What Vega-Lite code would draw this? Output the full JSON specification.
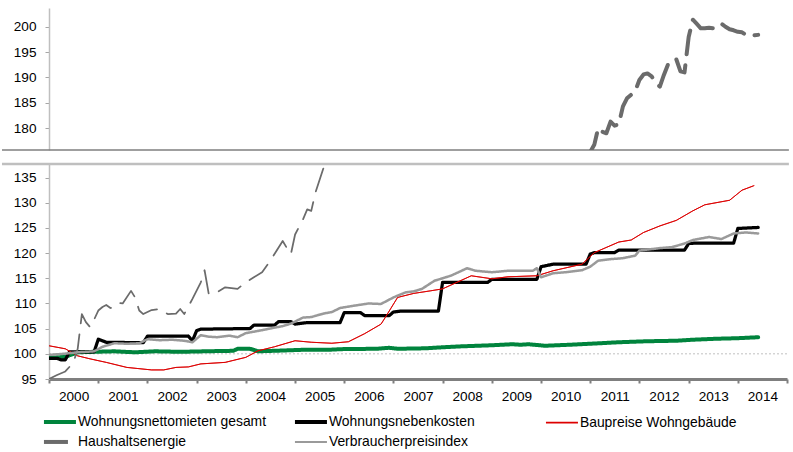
{
  "$schema": "https://vega.github.io/schema/vega-lite/v6.json",
  "padding": {"left": 0, "top": 8, "right": 4, "bottom": 0},
  "spacing": 11,
  "config": {
    "view": {"stroke": null},
    "font": "Liberation Sans",
    "axis": {"labelFont": "Liberation Sans", "labelFontSize": 13.6, "labelColor": "#000000", "grid": false, "title": null, "tickSize": 4, "labelOverlap": false},
    "legend": {"labelFont": "Liberation Sans", "labelFontSize": 13.9, "labelColor": "#000000", "labelLimit": 400}
  },
  "datasets": {
    "indices": [
      {"series": "Wohnungsnettomieten gesamt", "date": "2000-01-01", "value": 99.2},
      {"series": "Wohnungsnettomieten gesamt", "date": "2000-03-01", "value": 99.3},
      {"series": "Wohnungsnettomieten gesamt", "date": "2000-05-01", "value": 99.4},
      {"series": "Wohnungsnettomieten gesamt", "date": "2000-08-01", "value": 100.3},
      {"series": "Wohnungsnettomieten gesamt", "date": "2000-12-01", "value": 100.4},
      {"series": "Wohnungsnettomieten gesamt", "date": "2001-05-01", "value": 100.5},
      {"series": "Wohnungsnettomieten gesamt", "date": "2001-10-01", "value": 100.3},
      {"series": "Wohnungsnettomieten gesamt", "date": "2002-03-01", "value": 100.5},
      {"series": "Wohnungsnettomieten gesamt", "date": "2002-09-01", "value": 100.4},
      {"series": "Wohnungsnettomieten gesamt", "date": "2003-03-01", "value": 100.5},
      {"series": "Wohnungsnettomieten gesamt", "date": "2003-10-01", "value": 100.6},
      {"series": "Wohnungsnettomieten gesamt", "date": "2003-11-01", "value": 101.0},
      {"series": "Wohnungsnettomieten gesamt", "date": "2004-02-01", "value": 101.0},
      {"series": "Wohnungsnettomieten gesamt", "date": "2004-04-01", "value": 100.5},
      {"series": "Wohnungsnettomieten gesamt", "date": "2004-08-01", "value": 100.6},
      {"series": "Wohnungsnettomieten gesamt", "date": "2005-03-01", "value": 100.8},
      {"series": "Wohnungsnettomieten gesamt", "date": "2005-09-01", "value": 100.8},
      {"series": "Wohnungsnettomieten gesamt", "date": "2006-01-01", "value": 100.95},
      {"series": "Wohnungsnettomieten gesamt", "date": "2006-09-01", "value": 101.0},
      {"series": "Wohnungsnettomieten gesamt", "date": "2006-12-01", "value": 101.2},
      {"series": "Wohnungsnettomieten gesamt", "date": "2007-02-01", "value": 101.0},
      {"series": "Wohnungsnettomieten gesamt", "date": "2007-09-01", "value": 101.1},
      {"series": "Wohnungsnettomieten gesamt", "date": "2008-01-01", "value": 101.3},
      {"series": "Wohnungsnettomieten gesamt", "date": "2008-06-01", "value": 101.5},
      {"series": "Wohnungsnettomieten gesamt", "date": "2009-01-01", "value": 101.7},
      {"series": "Wohnungsnettomieten gesamt", "date": "2009-06-01", "value": 101.9},
      {"series": "Wohnungsnettomieten gesamt", "date": "2009-08-01", "value": 101.8},
      {"series": "Wohnungsnettomieten gesamt", "date": "2009-10-01", "value": 101.9},
      {"series": "Wohnungsnettomieten gesamt", "date": "2010-02-01", "value": 101.6},
      {"series": "Wohnungsnettomieten gesamt", "date": "2010-08-01", "value": 101.8},
      {"series": "Wohnungsnettomieten gesamt", "date": "2011-01-01", "value": 102.0},
      {"series": "Wohnungsnettomieten gesamt", "date": "2011-08-01", "value": 102.3},
      {"series": "Wohnungsnettomieten gesamt", "date": "2012-03-01", "value": 102.5},
      {"series": "Wohnungsnettomieten gesamt", "date": "2012-10-01", "value": 102.6},
      {"series": "Wohnungsnettomieten gesamt", "date": "2013-02-01", "value": 102.8},
      {"series": "Wohnungsnettomieten gesamt", "date": "2013-08-01", "value": 103.0},
      {"series": "Wohnungsnettomieten gesamt", "date": "2014-01-01", "value": 103.1},
      {"series": "Wohnungsnettomieten gesamt", "date": "2014-06-01", "value": 103.3},

      {"series": "Wohnungsnebenkosten", "date": "2000-01-01", "value": 99.1},
      {"series": "Wohnungsnebenkosten", "date": "2000-03-01", "value": 99.1},
      {"series": "Wohnungsnebenkosten", "date": "2000-04-01", "value": 98.8},
      {"series": "Wohnungsnebenkosten", "date": "2000-05-01", "value": 98.8},
      {"series": "Wohnungsnebenkosten", "date": "2000-06-01", "value": 100.4},
      {"series": "Wohnungsnebenkosten", "date": "2000-12-01", "value": 100.4},
      {"series": "Wohnungsnebenkosten", "date": "2001-01-01", "value": 102.9},
      {"series": "Wohnungsnebenkosten", "date": "2001-03-01", "value": 102.3},
      {"series": "Wohnungsnebenkosten", "date": "2001-12-01", "value": 102.2},
      {"series": "Wohnungsnebenkosten", "date": "2002-01-01", "value": 103.5},
      {"series": "Wohnungsnebenkosten", "date": "2002-11-01", "value": 103.5},
      {"series": "Wohnungsnebenkosten", "date": "2002-12-01", "value": 102.6},
      {"series": "Wohnungsnebenkosten", "date": "2003-01-01", "value": 104.6},
      {"series": "Wohnungsnebenkosten", "date": "2003-02-01", "value": 104.9},
      {"series": "Wohnungsnebenkosten", "date": "2003-12-01", "value": 105.0},
      {"series": "Wohnungsnebenkosten", "date": "2004-02-01", "value": 105.0},
      {"series": "Wohnungsnebenkosten", "date": "2004-03-01", "value": 105.7},
      {"series": "Wohnungsnebenkosten", "date": "2004-08-01", "value": 105.7},
      {"series": "Wohnungsnebenkosten", "date": "2004-09-01", "value": 106.4},
      {"series": "Wohnungsnebenkosten", "date": "2004-12-01", "value": 106.4},
      {"series": "Wohnungsnebenkosten", "date": "2005-01-01", "value": 105.9},
      {"series": "Wohnungsnebenkosten", "date": "2005-04-01", "value": 106.2},
      {"series": "Wohnungsnebenkosten", "date": "2005-12-01", "value": 106.2},
      {"series": "Wohnungsnebenkosten", "date": "2006-01-01", "value": 108.2},
      {"series": "Wohnungsnebenkosten", "date": "2006-05-01", "value": 108.2},
      {"series": "Wohnungsnebenkosten", "date": "2006-06-01", "value": 107.6},
      {"series": "Wohnungsnebenkosten", "date": "2006-12-01", "value": 107.6},
      {"series": "Wohnungsnebenkosten", "date": "2007-01-01", "value": 108.3},
      {"series": "Wohnungsnebenkosten", "date": "2007-03-01", "value": 108.5},
      {"series": "Wohnungsnebenkosten", "date": "2007-12-01", "value": 108.5},
      {"series": "Wohnungsnebenkosten", "date": "2008-01-01", "value": 114.2},
      {"series": "Wohnungsnebenkosten", "date": "2008-12-01", "value": 114.2},
      {"series": "Wohnungsnebenkosten", "date": "2009-01-01", "value": 114.8},
      {"series": "Wohnungsnebenkosten", "date": "2009-12-01", "value": 114.8},
      {"series": "Wohnungsnebenkosten", "date": "2010-01-01", "value": 117.3},
      {"series": "Wohnungsnebenkosten", "date": "2010-04-01", "value": 117.8},
      {"series": "Wohnungsnebenkosten", "date": "2010-12-01", "value": 117.8},
      {"series": "Wohnungsnebenkosten", "date": "2011-01-01", "value": 119.8},
      {"series": "Wohnungsnebenkosten", "date": "2011-02-01", "value": 120.1},
      {"series": "Wohnungsnebenkosten", "date": "2011-07-01", "value": 120.1},
      {"series": "Wohnungsnebenkosten", "date": "2011-08-01", "value": 120.6},
      {"series": "Wohnungsnebenkosten", "date": "2012-12-01", "value": 120.6},
      {"series": "Wohnungsnebenkosten", "date": "2013-01-01", "value": 121.9},
      {"series": "Wohnungsnebenkosten", "date": "2013-03-01", "value": 122.0},
      {"series": "Wohnungsnebenkosten", "date": "2013-12-01", "value": 122.0},
      {"series": "Wohnungsnebenkosten", "date": "2014-01-01", "value": 124.9},
      {"series": "Wohnungsnebenkosten", "date": "2014-06-01", "value": 125.1},

      {"series": "Baupreise Wohngebäude", "date": "2000-01-01", "value": 101.6},
      {"series": "Baupreise Wohngebäude", "date": "2000-05-01", "value": 101.0},
      {"series": "Baupreise Wohngebäude", "date": "2000-08-01", "value": 99.6},
      {"series": "Baupreise Wohngebäude", "date": "2000-11-01", "value": 99.0},
      {"series": "Baupreise Wohngebäude", "date": "2001-03-01", "value": 98.3},
      {"series": "Baupreise Wohngebäude", "date": "2001-08-01", "value": 97.3},
      {"series": "Baupreise Wohngebäude", "date": "2002-02-01", "value": 96.8},
      {"series": "Baupreise Wohngebäude", "date": "2002-05-01", "value": 96.8},
      {"series": "Baupreise Wohngebäude", "date": "2002-08-01", "value": 97.3},
      {"series": "Baupreise Wohngebäude", "date": "2002-11-01", "value": 97.4},
      {"series": "Baupreise Wohngebäude", "date": "2003-02-01", "value": 98.0},
      {"series": "Baupreise Wohngebäude", "date": "2003-08-01", "value": 98.3},
      {"series": "Baupreise Wohngebäude", "date": "2004-01-01", "value": 99.3},
      {"series": "Baupreise Wohngebäude", "date": "2004-04-01", "value": 100.6},
      {"series": "Baupreise Wohngebäude", "date": "2004-08-01", "value": 101.4},
      {"series": "Baupreise Wohngebäude", "date": "2005-01-01", "value": 102.6},
      {"series": "Baupreise Wohngebäude", "date": "2005-05-01", "value": 102.3},
      {"series": "Baupreise Wohngebäude", "date": "2005-10-01", "value": 102.1},
      {"series": "Baupreise Wohngebäude", "date": "2006-02-01", "value": 102.4},
      {"series": "Baupreise Wohngebäude", "date": "2006-06-01", "value": 104.0},
      {"series": "Baupreise Wohngebäude", "date": "2006-10-01", "value": 105.9},
      {"series": "Baupreise Wohngebäude", "date": "2006-11-01", "value": 107.2},
      {"series": "Baupreise Wohngebäude", "date": "2007-02-01", "value": 111.2},
      {"series": "Baupreise Wohngebäude", "date": "2007-06-01", "value": 112.0},
      {"series": "Baupreise Wohngebäude", "date": "2007-10-01", "value": 112.5},
      {"series": "Baupreise Wohngebäude", "date": "2008-01-01", "value": 112.9},
      {"series": "Baupreise Wohngebäude", "date": "2008-08-01", "value": 115.5},
      {"series": "Baupreise Wohngebäude", "date": "2009-01-01", "value": 114.9},
      {"series": "Baupreise Wohngebäude", "date": "2009-05-01", "value": 115.3},
      {"series": "Baupreise Wohngebäude", "date": "2009-12-01", "value": 115.5},
      {"series": "Baupreise Wohngebäude", "date": "2010-04-01", "value": 116.5},
      {"series": "Baupreise Wohngebäude", "date": "2010-11-01", "value": 117.8},
      {"series": "Baupreise Wohngebäude", "date": "2011-02-01", "value": 120.1},
      {"series": "Baupreise Wohngebäude", "date": "2011-08-01", "value": 122.2},
      {"series": "Baupreise Wohngebäude", "date": "2011-11-01", "value": 122.6},
      {"series": "Baupreise Wohngebäude", "date": "2012-02-01", "value": 124.1},
      {"series": "Baupreise Wohngebäude", "date": "2012-06-01", "value": 125.4},
      {"series": "Baupreise Wohngebäude", "date": "2012-10-01", "value": 126.5},
      {"series": "Baupreise Wohngebäude", "date": "2013-02-01", "value": 128.4},
      {"series": "Baupreise Wohngebäude", "date": "2013-05-01", "value": 129.6},
      {"series": "Baupreise Wohngebäude", "date": "2013-11-01", "value": 130.5},
      {"series": "Baupreise Wohngebäude", "date": "2014-02-01", "value": 132.5},
      {"series": "Baupreise Wohngebäude", "date": "2014-05-01", "value": 133.4},

      {"series": "Haushaltsenergie", "date": "2000-01-01", "value": 95.0},
      {"series": "Haushaltsenergie", "date": "2000-03-01", "value": 95.8},
      {"series": "Haushaltsenergie", "date": "2000-05-01", "value": 96.5},
      {"series": "Haushaltsenergie", "date": "2000-07-01", "value": 98.3},
      {"series": "Haushaltsenergie", "date": "2000-08-01", "value": 101.0},
      {"series": "Haushaltsenergie", "date": "2000-09-01", "value": 107.9},
      {"series": "Haushaltsenergie", "date": "2000-10-01", "value": 106.3},
      {"series": "Haushaltsenergie", "date": "2000-11-01", "value": 105.3},
      {"series": "Haushaltsenergie", "date": "2000-12-01", "value": 106.8},
      {"series": "Haushaltsenergie", "date": "2001-01-01", "value": 108.6},
      {"series": "Haushaltsenergie", "date": "2001-02-01", "value": 109.3},
      {"series": "Haushaltsenergie", "date": "2001-03-01", "value": 109.7},
      {"series": "Haushaltsenergie", "date": "2001-04-01", "value": 109.1},
      {"series": "Haushaltsenergie", "date": "2001-05-01", "value": 109.3},
      {"series": "Haushaltsenergie", "date": "2001-06-01", "value": 110.1},
      {"series": "Haushaltsenergie", "date": "2001-07-01", "value": 110.0},
      {"series": "Haushaltsenergie", "date": "2001-09-01", "value": 112.5},
      {"series": "Haushaltsenergie", "date": "2001-10-01", "value": 111.2},
      {"series": "Haushaltsenergie", "date": "2001-11-01", "value": 108.6},
      {"series": "Haushaltsenergie", "date": "2001-12-01", "value": 107.9},
      {"series": "Haushaltsenergie", "date": "2002-02-01", "value": 108.7},
      {"series": "Haushaltsenergie", "date": "2002-04-01", "value": 108.9},
      {"series": "Haushaltsenergie", "date": "2002-06-01", "value": 107.9},
      {"series": "Haushaltsenergie", "date": "2002-08-01", "value": 108.0},
      {"series": "Haushaltsenergie", "date": "2002-09-01", "value": 108.9},
      {"series": "Haushaltsenergie", "date": "2002-10-01", "value": 107.9},
      {"series": "Haushaltsenergie", "date": "2002-12-01", "value": 110.9},
      {"series": "Haushaltsenergie", "date": "2003-02-01", "value": 114.2},
      {"series": "Haushaltsenergie", "date": "2003-03-01", "value": 116.6},
      {"series": "Haushaltsenergie", "date": "2003-04-01", "value": 111.9},
      {"series": "Haushaltsenergie", "date": "2003-06-01", "value": 112.2},
      {"series": "Haushaltsenergie", "date": "2003-08-01", "value": 113.2},
      {"series": "Haushaltsenergie", "date": "2003-11-01", "value": 112.9},
      {"series": "Haushaltsenergie", "date": "2004-01-01", "value": 114.2},
      {"series": "Haushaltsenergie", "date": "2004-03-01", "value": 115.2},
      {"series": "Haushaltsenergie", "date": "2004-05-01", "value": 116.2},
      {"series": "Haushaltsenergie", "date": "2004-07-01", "value": 118.5},
      {"series": "Haushaltsenergie", "date": "2004-10-01", "value": 122.4},
      {"series": "Haushaltsenergie", "date": "2004-11-01", "value": 121.0},
      {"series": "Haushaltsenergie", "date": "2004-12-01", "value": 119.8},
      {"series": "Haushaltsenergie", "date": "2005-01-01", "value": 123.7},
      {"series": "Haushaltsenergie", "date": "2005-03-01", "value": 126.7},
      {"series": "Haushaltsenergie", "date": "2005-04-01", "value": 128.7},
      {"series": "Haushaltsenergie", "date": "2005-05-01", "value": 128.4},
      {"series": "Haushaltsenergie", "date": "2005-06-01", "value": 132.0},
      {"series": "Haushaltsenergie", "date": "2005-08-01", "value": 137.0},
      {"series": "Haushaltsenergie", "date": "2005-10-01", "value": 143.0},
      {"series": "Haushaltsenergie", "date": "2006-01-01", "value": 142.0},
      {"series": "Haushaltsenergie", "date": "2006-07-01", "value": 148.0},
      {"series": "Haushaltsenergie", "date": "2007-01-01", "value": 145.0},
      {"series": "Haushaltsenergie", "date": "2007-07-01", "value": 148.0},
      {"series": "Haushaltsenergie", "date": "2008-01-01", "value": 158.0},
      {"series": "Haushaltsenergie", "date": "2008-07-01", "value": 172.0},
      {"series": "Haushaltsenergie", "date": "2008-10-01", "value": 170.0},
      {"series": "Haushaltsenergie", "date": "2009-01-01", "value": 160.0},
      {"series": "Haushaltsenergie", "date": "2009-07-01", "value": 152.0},
      {"series": "Haushaltsenergie", "date": "2010-01-01", "value": 158.0},
      {"series": "Haushaltsenergie", "date": "2010-07-01", "value": 160.0},
      {"series": "Haushaltsenergie", "date": "2010-10-01", "value": 165.0},
      {"series": "Haushaltsenergie", "date": "2010-12-01", "value": 171.0},
      {"series": "Haushaltsenergie", "date": "2011-01-01", "value": 175.3},
      {"series": "Haushaltsenergie", "date": "2011-02-01", "value": 176.8},
      {"series": "Haushaltsenergie", "date": "2011-03-01", "value": 180.0},
      {"series": "Haushaltsenergie", "date": "2011-04-01", "value": 179.3},
      {"series": "Haushaltsenergie", "date": "2011-05-01", "value": 179.0},
      {"series": "Haushaltsenergie", "date": "2011-06-01", "value": 181.3},
      {"series": "Haushaltsenergie", "date": "2011-07-01", "value": 180.5},
      {"series": "Haushaltsenergie", "date": "2011-08-01", "value": 180.8},
      {"series": "Haushaltsenergie", "date": "2011-09-01", "value": 184.3},
      {"series": "Haushaltsenergie", "date": "2011-10-01", "value": 185.9},
      {"series": "Haushaltsenergie", "date": "2011-11-01", "value": 186.6},
      {"series": "Haushaltsenergie", "date": "2011-12-01", "value": 187.3},
      {"series": "Haushaltsenergie", "date": "2012-01-01", "value": 189.5},
      {"series": "Haushaltsenergie", "date": "2012-02-01", "value": 190.6},
      {"series": "Haushaltsenergie", "date": "2012-03-01", "value": 190.8},
      {"series": "Haushaltsenergie", "date": "2012-04-01", "value": 190.2},
      {"series": "Haushaltsenergie", "date": "2012-05-01", "value": 189.0},
      {"series": "Haushaltsenergie", "date": "2012-06-01", "value": 188.2},
      {"series": "Haushaltsenergie", "date": "2012-07-01", "value": 190.5},
      {"series": "Haushaltsenergie", "date": "2012-08-01", "value": 192.6},
      {"series": "Haushaltsenergie", "date": "2012-09-01", "value": 193.4},
      {"series": "Haushaltsenergie", "date": "2012-10-01", "value": 193.6},
      {"series": "Haushaltsenergie", "date": "2012-11-01", "value": 191.2},
      {"series": "Haushaltsenergie", "date": "2012-12-01", "value": 191.0},
      {"series": "Haushaltsenergie", "date": "2013-01-01", "value": 198.0},
      {"series": "Haushaltsenergie", "date": "2013-02-01", "value": 201.4},
      {"series": "Haushaltsenergie", "date": "2013-03-01", "value": 200.6},
      {"series": "Haushaltsenergie", "date": "2013-04-01", "value": 199.7},
      {"series": "Haushaltsenergie", "date": "2013-05-01", "value": 199.7},
      {"series": "Haushaltsenergie", "date": "2013-06-01", "value": 199.8},
      {"series": "Haushaltsenergie", "date": "2013-07-01", "value": 199.7},
      {"series": "Haushaltsenergie", "date": "2013-08-01", "value": 200.2},
      {"series": "Haushaltsenergie", "date": "2013-09-01", "value": 200.6},
      {"series": "Haushaltsenergie", "date": "2013-10-01", "value": 200.0},
      {"series": "Haushaltsenergie", "date": "2013-11-01", "value": 199.5},
      {"series": "Haushaltsenergie", "date": "2013-12-01", "value": 199.3},
      {"series": "Haushaltsenergie", "date": "2014-01-01", "value": 199.0},
      {"series": "Haushaltsenergie", "date": "2014-02-01", "value": 198.9},
      {"series": "Haushaltsenergie", "date": "2014-03-01", "value": 198.4},
      {"series": "Haushaltsenergie", "date": "2014-04-01", "value": 198.2},
      {"series": "Haushaltsenergie", "date": "2014-05-01", "value": 198.3},
      {"series": "Haushaltsenergie", "date": "2014-06-01", "value": 198.4},

      {"series": "Verbraucherpreisindex", "date": "2000-01-01", "value": 99.8},
      {"series": "Verbraucherpreisindex", "date": "2000-04-01", "value": 99.96},
      {"series": "Verbraucherpreisindex", "date": "2000-08-01", "value": 100.3},
      {"series": "Verbraucherpreisindex", "date": "2000-12-01", "value": 100.5},
      {"series": "Verbraucherpreisindex", "date": "2001-02-01", "value": 101.4},
      {"series": "Verbraucherpreisindex", "date": "2001-05-01", "value": 102.1},
      {"series": "Verbraucherpreisindex", "date": "2001-08-01", "value": 102.0},
      {"series": "Verbraucherpreisindex", "date": "2001-11-01", "value": 102.1},
      {"series": "Verbraucherpreisindex", "date": "2002-01-01", "value": 102.9},
      {"series": "Verbraucherpreisindex", "date": "2002-04-01", "value": 102.7},
      {"series": "Verbraucherpreisindex", "date": "2002-07-01", "value": 102.8},
      {"series": "Verbraucherpreisindex", "date": "2002-10-01", "value": 102.6},
      {"series": "Verbraucherpreisindex", "date": "2002-12-01", "value": 102.3},
      {"series": "Verbraucherpreisindex", "date": "2003-02-01", "value": 103.7},
      {"series": "Verbraucherpreisindex", "date": "2003-04-01", "value": 103.4},
      {"series": "Verbraucherpreisindex", "date": "2003-06-01", "value": 103.3},
      {"series": "Verbraucherpreisindex", "date": "2003-09-01", "value": 103.6},
      {"series": "Verbraucherpreisindex", "date": "2003-11-01", "value": 103.3},
      {"series": "Verbraucherpreisindex", "date": "2004-01-01", "value": 104.1},
      {"series": "Verbraucherpreisindex", "date": "2004-05-01", "value": 104.7},
      {"series": "Verbraucherpreisindex", "date": "2004-08-01", "value": 105.2},
      {"series": "Verbraucherpreisindex", "date": "2004-10-01", "value": 105.5},
      {"series": "Verbraucherpreisindex", "date": "2004-12-01", "value": 106.0},
      {"series": "Verbraucherpreisindex", "date": "2005-03-01", "value": 107.2},
      {"series": "Verbraucherpreisindex", "date": "2005-05-01", "value": 107.3},
      {"series": "Verbraucherpreisindex", "date": "2005-08-01", "value": 108.0},
      {"series": "Verbraucherpreisindex", "date": "2005-10-01", "value": 108.3},
      {"series": "Verbraucherpreisindex", "date": "2005-12-01", "value": 109.1},
      {"series": "Verbraucherpreisindex", "date": "2006-03-01", "value": 109.5},
      {"series": "Verbraucherpreisindex", "date": "2006-07-01", "value": 110.0},
      {"series": "Verbraucherpreisindex", "date": "2006-10-01", "value": 109.9},
      {"series": "Verbraucherpreisindex", "date": "2007-01-01", "value": 111.2},
      {"series": "Verbraucherpreisindex", "date": "2007-04-01", "value": 112.2},
      {"series": "Verbraucherpreisindex", "date": "2007-06-01", "value": 112.4},
      {"series": "Verbraucherpreisindex", "date": "2007-08-01", "value": 112.9},
      {"series": "Verbraucherpreisindex", "date": "2007-11-01", "value": 114.5},
      {"series": "Verbraucherpreisindex", "date": "2008-03-01", "value": 115.5},
      {"series": "Verbraucherpreisindex", "date": "2008-07-01", "value": 117.0},
      {"series": "Verbraucherpreisindex", "date": "2008-09-01", "value": 116.5},
      {"series": "Verbraucherpreisindex", "date": "2009-01-01", "value": 116.2},
      {"series": "Verbraucherpreisindex", "date": "2009-05-01", "value": 116.5},
      {"series": "Verbraucherpreisindex", "date": "2009-11-01", "value": 116.5},
      {"series": "Verbraucherpreisindex", "date": "2009-12-01", "value": 117.0},
      {"series": "Verbraucherpreisindex", "date": "2010-01-01", "value": 115.2},
      {"series": "Verbraucherpreisindex", "date": "2010-04-01", "value": 116.0},
      {"series": "Verbraucherpreisindex", "date": "2010-07-01", "value": 116.2},
      {"series": "Verbraucherpreisindex", "date": "2010-11-01", "value": 116.6},
      {"series": "Verbraucherpreisindex", "date": "2011-01-01", "value": 117.3},
      {"series": "Verbraucherpreisindex", "date": "2011-03-01", "value": 118.5},
      {"series": "Verbraucherpreisindex", "date": "2011-06-01", "value": 118.8},
      {"series": "Verbraucherpreisindex", "date": "2011-09-01", "value": 119.0},
      {"series": "Verbraucherpreisindex", "date": "2011-12-01", "value": 119.5},
      {"series": "Verbraucherpreisindex", "date": "2012-01-01", "value": 120.5},
      {"series": "Verbraucherpreisindex", "date": "2012-06-01", "value": 121.0},
      {"series": "Verbraucherpreisindex", "date": "2012-09-01", "value": 121.2},
      {"series": "Verbraucherpreisindex", "date": "2012-12-01", "value": 121.9},
      {"series": "Verbraucherpreisindex", "date": "2013-02-01", "value": 122.6},
      {"series": "Verbraucherpreisindex", "date": "2013-06-01", "value": 123.2},
      {"series": "Verbraucherpreisindex", "date": "2013-09-01", "value": 122.8},
      {"series": "Verbraucherpreisindex", "date": "2013-12-01", "value": 123.9},
      {"series": "Verbraucherpreisindex", "date": "2014-03-01", "value": 124.1},
      {"series": "Verbraucherpreisindex", "date": "2014-06-01", "value": 123.9}
    ]
  },
  "vconcat": [
    {
      "width": 738,
      "height": 142,
      "layer": [
        {
          "data": {"values": [{}]},
          "mark": {"type": "rule", "color": "#7f7f7f", "strokeWidth": 1.5},
          "encoding": {
            "x": {"datum": {"year": 1999, "month": 1, "date": 17}, "type": "temporal"},
            "x2": {"datum": {"year": 2015, "month": 1, "date": 15}},
            "y": {"datum": 175.7, "type": "quantitative"}
          }
        },
        {
          "data": {"name": "indices"},
          "transform": [{"filter": "datum.series === 'Haushaltsenergie'"}],
          "mark": {"type": "line", "clip": true, "strokeCap": "round", "strokeJoin": "round"},
          "encoding": {
            "x": {"field": "date", "type": "temporal", "axis": null,
                  "scale": {"domain": [{"year": 2000, "month": 1, "date": 1}, {"year": 2015, "month": 1, "date": 1}]}},
            "y": {"field": "value", "type": "quantitative",
                  "scale": {"domain": [175.7, 203.7], "nice": false, "zero": false},
                  "axis": {"values": [180, 185, 190, 195, 200], "tickCount": 20, "labelOverlap": false, "domainColor": "#bfbfbf", "domainWidth": 1.5, "tickColor": "#a6a6a6", "labelPadding": 9}},
            "color": {"field": "series", "type": "nominal",
                      "scale": {"domain": ["Wohnungsnettomieten gesamt", "Wohnungsnebenkosten", "Baupreise Wohngebäude", "Haushaltsenergie", "Verbraucherpreisindex"],
                                "range": ["#00843d", "#000000", "#dd0000", "#6b6b6b", "#9a9a9a"]},
                      "legend": {"orient": "none", "legendX": 4, "legendY": 407, "columns": 3, "direction": "horizontal", "title": null,
                                 "symbolType": "M-2,0H2", "symbolSize": 256, "labelOffset": 11, "columnPadding": 19, "rowPadding": 3, "gridAlign": "all",
                                 "encode": {"symbols": {"update": {
                                   "strokeWidth": {"signal": "datum.value === 'Baupreise Wohngebäude' ? 1.8 : datum.value === 'Verbraucherpreisindex' ? 2 : 4"},
                                   "strokeDash": {"signal": "datum.value === 'Haushaltsenergie' ? [24, 11] : [1, 0]"}
                                 }}}}},
            "strokeWidth": {"field": "series", "type": "nominal", "legend": null,
                            "scale": {"type": "ordinal", "domain": ["Wohnungsnettomieten gesamt", "Wohnungsnebenkosten", "Baupreise Wohngebäude", "Haushaltsenergie", "Verbraucherpreisindex"],
                                      "range": [4, 4, 1.8, 4, 2]}},
            "strokeDash": {"field": "series", "type": "nominal", "legend": null,
                           "scale": {"domain": ["Wohnungsnettomieten gesamt", "Wohnungsnebenkosten", "Baupreise Wohngebäude", "Haushaltsenergie", "Verbraucherpreisindex"],
                                     "range": [[1, 0], [1, 0], [1, 0], [24, 11], [1, 0]]}}
          }
        }
      ]
    },
    {
      "width": 738,
      "height": 215,
      "layer": [
        {
          "data": {"values": [{}]},
          "mark": {"type": "rule", "color": "#bfbfbf", "strokeWidth": 2.5},
          "encoding": {
            "x": {"datum": {"year": 1999, "month": 1, "date": 17}, "type": "temporal"},
            "x2": {"datum": {"year": 2015, "month": 1, "date": 15}},
            "y": {"datum": 137.7, "type": "quantitative"}
          }
        },
        {
          "data": {"values": [{}]},
          "mark": {"type": "rule", "color": "#c0c0c0", "strokeWidth": 1, "strokeDash": [2, 2]},
          "encoding": {
            "y": {"datum": 100, "type": "quantitative"}
          }
        },
        {
          "data": {"name": "indices"},
          "mark": {"type": "line", "clip": true, "strokeCap": "round", "strokeJoin": "round"},
          "encoding": {
            "x": {"field": "date", "type": "temporal",
                  "scale": {"domain": [{"year": 2000, "month": 1, "date": 1}, {"year": 2015, "month": 1, "date": 1}]},
                  "axis": {"values": [{"year": 2000}, {"year": 2001}, {"year": 2002}, {"year": 2003}, {"year": 2004}, {"year": 2005}, {"year": 2006}, {"year": 2007}, {"year": 2008}, {"year": 2009}, {"year": 2010}, {"year": 2011}, {"year": 2012}, {"year": 2013}, {"year": 2014}, {"year": 2015}],
                           "tickCount": 30, "format": "%Y", "labelExpr": "datum.label == '2015' ? '' : datum.label",
                           "labelOffset": 24.6, "labelFlush": false, "labelBound": false, "labelOverlap": false,
                           "domainColor": "#7f7f7f", "domainWidth": 3, "tickColor": "#7f7f7f", "tickWidth": 2, "labelPadding": 6}},
            "y": {"field": "value", "type": "quantitative",
                  "scale": {"domain": [95, 137.7], "nice": false, "zero": false},
                  "axis": {"values": [95, 100, 105, 110, 115, 120, 125, 130, 135], "tickCount": 20, "labelOverlap": false, "domainColor": "#bfbfbf", "domainWidth": 1.5, "tickColor": "#a6a6a6", "labelPadding": 9}},
            "color": {"field": "series", "type": "nominal"},
            "strokeWidth": {"field": "series", "type": "nominal", "legend": null},
            "strokeDash": {"field": "series", "type": "nominal", "legend": null}
          }
        }
      ]
    }
  ]
}
